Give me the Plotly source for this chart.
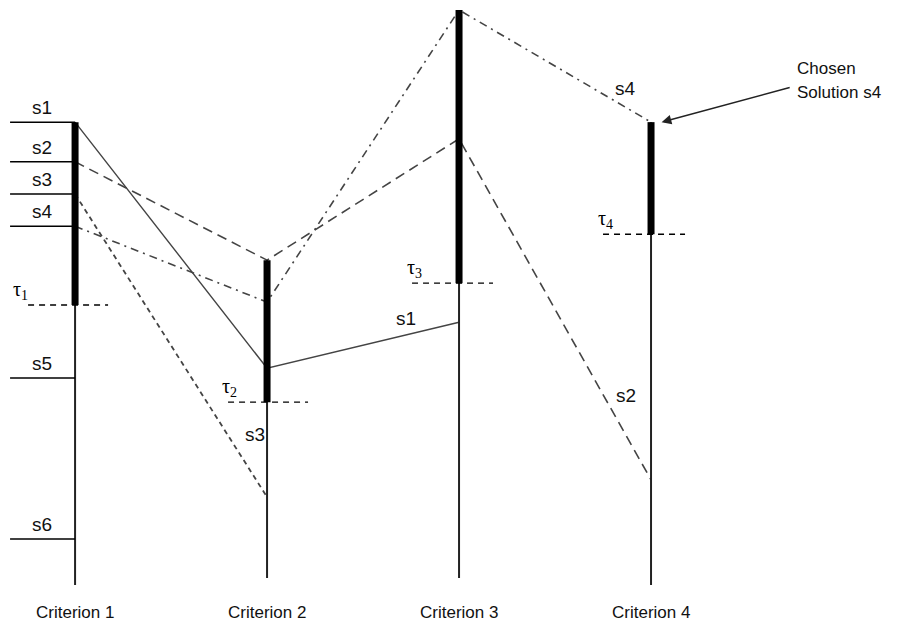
import plotly.graph_objects as go

# Criteria and solution scores (0-100 scale, higher is better)
criteria = ["Criterion 1", "Criterion 2", "Criterion 3", "Criterion 4"]
crit_x = [1, 2, 3, 4]

solutions = ["s1", "s2", "s3", "s4", "s5", "s6"]
crit1_scores = [80.5, 73.6, 68.0, 62.4, 36.0, 8.0]

# Scores of the solutions that survive to later criteria
s1_path = [80.5, 37.7, 45.7]
s2_path = [73.6, 56.5, 77.6, 18.3]
s3_path = [68.0, 15.3]
s4_path = [62.4, 49.2, 100.0, 80.5]

# Acceptance thresholds per criterion
thresholds = [48.7, 31.8, 52.5, 61.0]
threshold_labels = ["τ<sub>1</sub>", "τ<sub>2</sub>", "τ<sub>3</sub>", "τ<sub>4</sub>"]

# Lowest point drawn on each criterion axis
axis_bottom = [0.0, 1.2, 1.2, 0.0]

fig = go.Figure()

paths = [
    ("s1", s1_path, "solid", 1.4),
    ("s2", s2_path, "10px,6px", 1.6),
    ("s3", s3_path, "5px,4px", 1.8),
    ("s4", s4_path, "8px,5px,2px,5px", 1.6),
]
for name, ys, dash, w in paths:
    fig.add_trace(go.Scatter(
        x=crit_x[:len(ys)], y=ys, mode="lines", name=name,
        line=dict(color="#444444", width=w, dash=dash), hoverinfo="skip"))

# Tops of each axis: best score reached on that criterion
axis_top = [
    max(crit1_scores),
    max(s1_path[1], s2_path[1], s3_path[1], s4_path[1]),
    max(s1_path[2], s2_path[2], s4_path[2]),
    max(s2_path[3], s4_path[3]),
]

for cx, lo, hi, th in zip(crit_x, axis_bottom, axis_top, thresholds):
    fig.add_trace(go.Scatter(x=[cx, cx], y=[lo, hi], mode="lines",
                             line=dict(color="#222222", width=2), hoverinfo="skip"))
    fig.add_trace(go.Scatter(x=[cx, cx], y=[th, hi], mode="lines",
                             line=dict(color="black", width=7), hoverinfo="skip"))

shapes = []
# Threshold markers (dashed)
tau_left = [-47, -39, -47, -48]
tau_right = [33, 41, 34, 34]
for cx, th, l, r in zip(crit_x, thresholds, tau_left, tau_right):
    shapes.append(dict(type="line", xref="x", yref="y", xsizemode="pixel",
                       xanchor=cx, x0=l, x1=r, y0=th, y1=th,
                       line=dict(color="black", width=1.3, dash="6px,5px")))
# Ranking ticks on the first criterion
for v in crit1_scores:
    shapes.append(dict(type="line", xref="x", yref="y", xsizemode="pixel",
                       xanchor=1, x0=-65, x1=0, y0=v, y1=v,
                       line=dict(color="black", width=1.5)))

font = dict(family="Liberation Sans, Arial, sans-serif", size=17, color="#111111")
label_font = dict(family="Liberation Sans, Arial, sans-serif", size=19, color="#111111")
ann = []
for name, v in zip(solutions, crit1_scores):
    ann.append(dict(x=1, y=v, xref="x", yref="y", text=name, showarrow=False,
                    xshift=-33, yshift=2, yanchor="bottom", font=label_font))

tau_shift = [-55, -38, -45, -46]
for cx, th, lab, sh in zip(crit_x, thresholds, threshold_labels, tau_shift):
    ann.append(dict(x=cx, y=th, xref="x", yref="y", text=lab, showarrow=False,
                    xshift=sh, yshift=0, yanchor="bottom",
                    font=dict(family="Liberation Serif, serif", size=20, color="black")))

for cx, name in zip(crit_x, criteria):
    ann.append(dict(x=cx, y=-4.7, xref="x", yref="y", text=name, showarrow=False,
                    yanchor="middle", font=font))

# Path labels
ann += [
    dict(x=2, y=26.1, text="s3", xshift=-12),
    dict(x=3, y=46.4, text="s1", xshift=-53),
    dict(x=4, y=86.4, text="s4", xshift=-26),
    dict(x=4, y=32.9, text="s2", xshift=-25),
]
for a in ann[-4:]:
    a.update(xref="x", yref="y", showarrow=False, yanchor="middle", font=label_font)

# Callout for the chosen solution
ann.append(dict(x=4.75, y=89.9, xref="x", yref="y", text="Chosen", showarrow=False,
                xanchor="left", yanchor="middle", font=font))
ann.append(dict(x=4.75, y=85.6, xref="x", yref="y", text="Solution s4", showarrow=False,
                xanchor="left", yanchor="middle", font=font))
ann.append(dict(x=4.055, y=s4_path[3], xref="x", yref="y", axref="x", ayref="y",
                ax=4.73, ay=86.6, text="", showarrow=True, arrowhead=2,
                arrowsize=1.3, arrowwidth=1.5, arrowcolor="#222222"))

fig.update_layout(
    width=920, height=627, margin=dict(l=0, r=0, t=0, b=0),
    plot_bgcolor="white", paper_bgcolor="white", showlegend=False,
    xaxis=dict(range=[0.609, 5.401], visible=False, fixedrange=True),
    yaxis=dict(range=[-7.30, 101.74], visible=False, fixedrange=True),
    shapes=shapes, annotations=ann,
)

fig.write_html("out.html")
